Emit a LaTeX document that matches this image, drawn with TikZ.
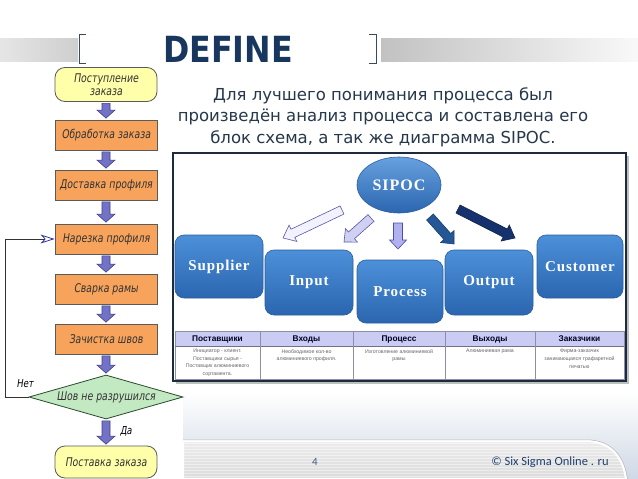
\documentclass[tikz,border=0pt]{standalone}
\usepackage{fontspec}
\setmainfont{DejaVu Sans}
\newfontfamily\deffont[FakeStretch=0.88]{DejaVu Sans}
\newfontfamily\gost[FakeSlant=0.15,FakeStretch=0.78]{DejaVu Sans}
\newfontfamily\sipocfont[LetterSpace=6]{Liberation Serif}
\newfontfamily\tabfont{Liberation Sans}
\newfontfamily\calib{Carlito}
\usetikzlibrary{calc,shapes.geometric,arrows.meta}
\definecolor{defblue}{HTML}{17375E}
\definecolor{paratext}{HTML}{26384A}
\definecolor{brkcol}{HTML}{3A4A5C}
\definecolor{termfill}{HTML}{FFFFAA}
\definecolor{procfill}{HTML}{F7A35C}
\definecolor{decfill}{HTML}{C3E9C3}
\definecolor{fcborder}{HTML}{5A5A5A}
\definecolor{fctext}{HTML}{333333}
\definecolor{farrowfill}{HTML}{7272C6}
\definecolor{farrowdraw}{HTML}{404088}
\definecolor{framecol}{HTML}{1C2C3C}
\definecolor{boxtop}{HTML}{4C90D9}
\definecolor{boxbot}{HTML}{2B66B0}
\definecolor{boxdraw}{HTML}{2A5E9E}
\definecolor{hdrfill}{HTML}{CBCCF3}
\definecolor{tabline}{HTML}{8E8EA8}
\definecolor{celltext}{HTML}{666666}
\definecolor{footblue}{HTML}{CFD8E6}
\definecolor{copyblue}{HTML}{1F3F6F}
\definecolor{pnumcol}{HTML}{3F5A7A}
\newcommand\barrow[6][]{%
  \path ($(#3)!#6!(#2)$) coordinate (bH);
  \path[#1] ($(#2)!#4!90:(#3)$) -- ($(bH)!#4!-90:(#2)$) -- ($(bH)!#5!-90:(#2)$)
    -- (#3) -- ($(bH)!#5!90:(#2)$) -- ($(bH)!#4!90:(#2)$) -- ($(#2)!#4!-90:(#3)$) -- cycle;}
\begin{document}
\begin{tikzpicture}[x=1pt,y=-1pt,
  brk/.style={draw=brkcol,line width=0.9pt},
  fcbase/.style={draw=fcborder,line width=0.8pt,text=fctext,font=\gost\fontsize{12}{13}\selectfont,align=center,inner sep=1pt},
  term/.style={fcbase,fill=termfill,rounded corners=10pt,minimum width=102pt,minimum height=34pt},
  proc/.style={fcbase,fill=procfill,minimum width=102pt,minimum height=30pt},
  dec/.style={fcbase,diamond,aspect=3.5,fill=decfill,draw=fcborder!80!green!60!black,minimum width=154pt,minimum height=44pt},
  farrow/.style={fill=farrowfill,draw=farrowdraw,line width=0.6pt},
  fclabel/.style={font=\gost\fontsize{11}{11}\selectfont,text=black,inner sep=0pt},
  sbox/.style={rounded corners=9pt,top color=boxtop,bottom color=boxbot,draw=boxdraw,line width=0.6pt,
    text=white,font=\sipocfont\bfseries\fontsize{15}{15}\selectfont},
  hdrtext/.style={font=\tabfont\bfseries\fontsize{8.3}{8.3}\selectfont,text=black!85!blue,anchor=base,inner sep=0pt},
  celltxt/.style={font=\tabfont\fontsize{5.2}{7.6}\selectfont,text=celltext,align=center,anchor=north,inner sep=0pt}
]
\useasboundingbox (0,0) rectangle (638,479);
\fill[white] (0,0) rectangle (638,479);

% ---- slide background bottom
\shade[top color=white,bottom color=footblue] (183,392) rectangle (638,479);
\path[top color=white!85!gray,bottom color=white!72!gray,draw=white,line width=2.2pt]
  (183,441) -- (586,441) .. controls (611,441) and (623,457) .. (626,479) -- (183,479) -- cycle;
\begin{scope}
  \clip (183,442) -- (586,442) .. controls (610,442) and (622,458) .. (625,479) -- (183,479) -- cycle;
  \foreach \yy in {443,446,...,479} \draw[white,opacity=0.45,line width=0.6pt] (183,\yy) -- (638,\yy);
\end{scope}
\draw[gray!55,line width=0.5pt] (183,439.8) -- (586,439.8) .. controls (612.5,439.8) and (624.5,457) .. (627.5,479);

% ---- header stripes
\foreach \yy in {38,44,50,56} {
  \shade[left color=white!80!gray,right color=white!62!gray] (0,\yy) rectangle (78,{\yy+5});
  \shade[left color=white!52!gray,right color=white!95!gray] (381,\yy) rectangle (638,{\yy+5});
}
\draw[brk] (86,34) -- (79,34) -- (79,63) -- (86,63);
\draw[brk] (369,34) -- (376,34) -- (376,63) -- (369,63);
\node[font=\deffont\bfseries\fontsize{36}{36}\selectfont,text=defblue,inner sep=0pt] (title) at (228,49) {DEFINE};

% ---- paragraph
\node[align=center,font=\fontsize{16.5}{21.5}\selectfont,text=paratext] (para) at (383,117)
  {Для лучшего понимания процесса был\\произведён анализ процесса и составлена его\\блок схема, а так же диаграмма SIPOC.};

% ---- flowchart
\node[term] (t1) at (106,84.5) {Поступление\\заказа};
\node[proc] (b2) at (106,135) {Обработка заказа};
\node[proc] (b3) at (106,185) {Доставка профиля};
\node[proc] (b4) at (106,239) {Нарезка профиля};
\node[proc] (b5) at (106,289) {Сварка рамы};
\node[proc] (b6) at (106,339) {Зачистка швов};
\node[dec]  (d7) at (106,397) {Шов не разрушился};
\node[term,minimum height=32pt] (t8) at (106,462) {Поставка заказа};

\foreach \p/\q [count=\i] in {t1/b2,b2/b3,b3/b4,b4/b5,b5/b6,b6/d7,d7/t8} {
  \coordinate (fs\i) at ($(\p.south)+(0,1.5)$);
  \coordinate (fe\i) at ($(\q.north)+(0,-1.5)$);
  \barrow[farrow]{fs\i}{fe\i}{4pt}{9pt}{8pt}
}
\coordinate (lc) at (5,397);
\draw[line width=0.8pt,draw=black!80,
  -{Stealth[open,length=14pt,width=9pt,inset=4pt,color=farrowdraw!80!blue,line width=0.8pt]}]
  (d7.west) -- (lc) |- (b4.west);
\node[fclabel] (no) at (25,384) {Нет};
\node[fclabel] (yes) at (126,431) {Да};

% ---- SIPOC frame
\fill[black,opacity=0.25] (176,156) rectangle (629,384);
\fill[white,draw=framecol,line width=1.2pt] (173,153) rectangle (626,381);

\node[ellipse,minimum width=78pt,minimum height=56pt,top color=boxtop!85!white,bottom color=boxbot,draw=boxdraw,
  line width=0.6pt,text=white,font=\sipocfont\bfseries\fontsize{16}{16}\selectfont] (sipoc) at (399,185) {SIPOC};
\node[sbox,minimum width=88pt,minimum height=63pt] (sup) at (219,266.5) {Supplier};
\node[sbox,minimum width=88pt,minimum height=65pt] (inp) at (309,282.5) {Input};
\node[sbox,minimum width=86pt,minimum height=63pt] (pro) at (400,291.5) {Process};
\node[sbox,minimum width=88pt,minimum height=65pt] (out) at (489,282.5) {Output};
\node[sbox,minimum width=86pt,minimum height=63pt] (cus) at (580,266.5) {Customer};

\coordinate (sa1) at (342,210); \coordinate (sb1) at (283,238);
\coordinate (sa2) at (371,218); \coordinate (sb2) at (344,242);
\coordinate (sa3) at (398,223); \coordinate (sb3) at (398,249);
\coordinate (sa4) at (430,217); \coordinate (sb4) at (454,244);
\coordinate (sa5) at (458,209); \coordinate (sb5) at (515,238);
\barrow[fill=white!95!blue,draw=gray!70!blue,line width=0.6pt]{sa1}{sb1}{4.5pt}{9pt}{11pt}
\barrow[fill=blue!15!white!90!gray,draw=blue!30!gray,line width=0.6pt]{sa2}{sb2}{4.5pt}{9pt}{10pt}
\barrow[fill=blue!28!white!88!gray,draw=blue!40!gray,line width=0.6pt]{sa3}{sb3}{4.5pt}{8.5pt}{9pt}
\barrow[fill=boxbot!85!black,draw=boxbot!60!black,line width=0.6pt]{sa4}{sb4}{4.5pt}{9pt}{10pt}
\barrow[fill=defblue!90!blue,draw=defblue!70!black,line width=0.6pt]{sa5}{sb5}{4.5pt}{9pt}{11pt}

% ---- table
\fill[hdrfill] (175,331) rectangle (624,346);
\draw[tabline,line width=0.5pt] (175,331) rectangle (624,379);
\draw[tabline!80!black,line width=0.7pt] (175,346) -- (624,346);
\foreach \xx in {260,353,445,535} \draw[tabline,line width=0.6pt] (\xx,331) -- (\xx,379);
\node[hdrtext] (h1) at (217.5,341.8) {Поставщики};
\node[hdrtext] (h2) at (306.5,341.8) {Входы};
\node[hdrtext] (h3) at (399,341.8) {Процесс};
\node[hdrtext] (h4) at (490,341.8) {Выходы};
\node[hdrtext] (h5) at (579.5,341.8) {Заказчики};
\node[celltxt] (c1) at (217.5,349) {Инициатор - клиент.\\Поставщики сырья -\\Поставщик алюминиевого\\сортамента.};
\node[celltxt] (c2) at (306.5,349) {Необходимое кол-во\\алюминиевого профиля.};
\node[celltxt] (c3) at (399,349) {Изготовление алюминиевой\\рамы};
\node[celltxt] (c4) at (490,349) {Алюминиевая рама};
\node[celltxt] (c5) at (579.5,349) {Фирма-заказчик\\занимающаяся трафаретной\\печатью};

% ---- footer texts
\node[font=\calib\fontsize{11}{11}\selectfont,text=pnumcol] (pnum) at (315,462) {4};
\node[font=\calib\fontsize{12.5}{12.5}\selectfont,text=copyblue] (copy) at (550,462) {© Six Sigma Online . ru};
\end{tikzpicture}
\end{document}
